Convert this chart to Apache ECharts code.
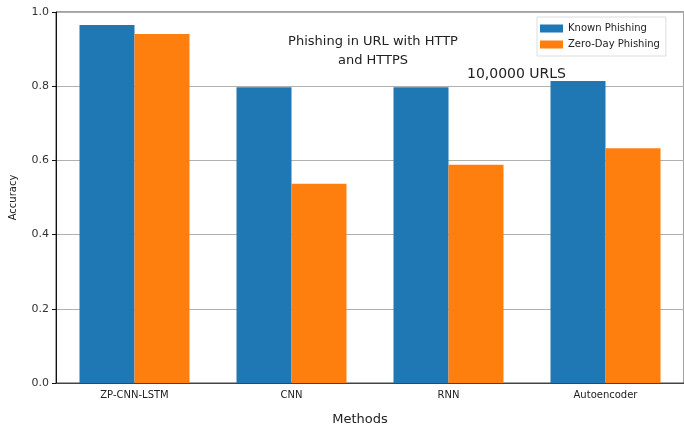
<!DOCTYPE html>
<html>
<head>
<meta charset="utf-8">
<script src="https://cdn.jsdelivr.net/npm/echarts@6/dist/echarts.min.js"></script>
<style>
  html, body { margin: 0; padding: 0; background: #fff; }
  #chart { width: 684px; height: 431px; }
</style>
</head>
<body>
<div id="chart"></div>
<script>
var methods = ['ZP-CNN-LSTM', 'CNN', 'RNN', 'Autoencoder'];
var knownPhishing = [0.965, 0.797, 0.797, 0.814];
var zeroDayPhishing = [0.941, 0.537, 0.588, 0.633];

var chart = echarts.init(document.getElementById('chart'));

var option = {
    animation: false,
    backgroundColor: '#fff',
    textStyle: { fontFamily: 'DejaVu Sans' },
    title: [
        {
            text: 'Phishing in URL with HTTP\nand HTTPS',
            left: 368,
            top: 27,
            textAlign: 'center',
            textStyle: { fontSize: 13, fontWeight: 'normal', color: '#222', lineHeight: 19, fontFamily: 'DejaVu Sans' }
        },
        {
            text: '10,0000 URLS',
            left: 462,
            top: 62,
            textStyle: { fontSize: 14, fontWeight: 'normal', color: '#222', fontFamily: 'DejaVu Sans' }
        }
    ],
    legend: {
        orient: 'vertical',
        left: 537,
        top: 17,
        itemWidth: 23,
        itemHeight: 8,
        itemGap: 3,
        icon: 'rect',
        padding: [5, 6, 5, 3],
        borderColor: '#ddd',
        borderWidth: 1,
        textStyle: { fontSize: 10, color: '#222', lineHeight: 13 },
        data: ['Known Phishing', 'Zero-Day Phishing']
    },
    grid: {
        left: 50,
        right: -3,
        top: 12,
        bottom: 38,
        show: true,
        borderColor: '#444',
        borderWidth: 1
    },
    xAxis: {
        type: 'category',
        data: methods,
        name: 'Methods',
        nameLocation: 'middle',
        nameGap: 30,
        nameTextStyle: { fontSize: 13, color: '#222', padding: [0, 20, 0, 0] },
        axisLine: { lineStyle: { color: '#444' } },
        axisTick: { alignWithLabel: true, length: 4, lineStyle: { color: '#444' } },
        axisLabel: { fontSize: 10, color: '#222', margin: 7 }
    },
    yAxis: {
        type: 'value',
        min: 0,
        max: 1,
        interval: 0.2,
        name: 'Accuracy',
        nameLocation: 'middle',
        nameGap: 38,
        nameTextStyle: { fontSize: 10, color: '#222' },
        axisLine: { show: true, lineStyle: { color: '#111' } },
        axisTick: { show: true, length: 4, lineStyle: { color: '#111' } },
        axisLabel: {
            fontSize: 11,
            color: '#333',
            margin: 7,
            formatter: function (v) { return v.toFixed(1); }
        },
        splitLine: { lineStyle: { color: '#b0b0b0', width: 1 } }
    },
    series: [
        {
            name: 'Known Phishing',
            type: 'bar',
            data: knownPhishing,
            barWidth: 55,
            barGap: '0%',
            itemStyle: { color: '#1f77b4' }
        },
        {
            name: 'Zero-Day Phishing',
            type: 'bar',
            data: zeroDayPhishing,
            barWidth: 55,
            barGap: '0%',
            itemStyle: { color: '#ff7f0e' }
        }
    ]
};

chart.setOption(option);
</script>
</body>
</html>
